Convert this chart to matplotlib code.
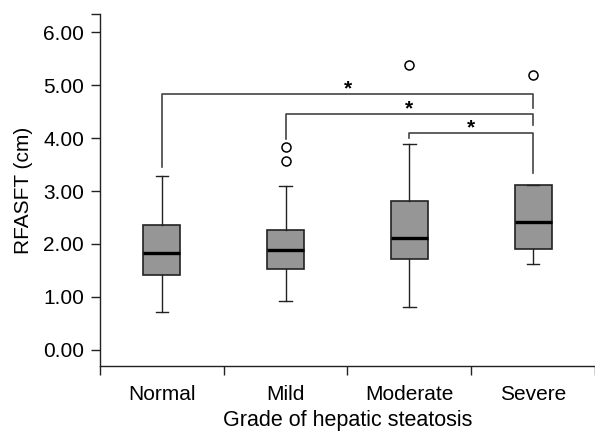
import matplotlib
matplotlib.use("Agg")
import matplotlib.pyplot as plt

plt.rcParams['font.family'] = ['Liberation Sans', 'DejaVu Sans']

# data
groups = ["Normal", "Mild", "Moderate", "Severe"]
whisk_lo = [0.71, 0.92, 0.81, 1.62]
q1 = [1.42, 1.53, 1.71, 1.90]
medians = [1.82, 1.89, 2.11, 2.42]
q3 = [2.35, 2.27, 2.81, 3.11]
whisk_hi = [3.29, 3.09, 3.89, 3.11]
outliers = [[], [3.83, 3.57], [5.39], [5.19]]

# significance brackets: (group a, group b), bar height, leg ends
pairs = [(0, 3), (1, 3), (2, 3)]
bar_y = [4.83, 4.455, 4.10]
leg_a = [3.45, 3.99, 4.00]
leg_b = [4.58, 4.25, 3.34]
yticks = [0, 1, 2, 3, 4, 5, 6]

fig = plt.figure(figsize=(5.95, 4.32), dpi=100)
ax = fig.add_axes([0.168, 0.1528, 0.832, 0.8148])

stats = []
for i in range(len(groups)):
    stats.append(dict(whislo=whisk_lo[i], q1=q1[i], med=medians[i],
                      q3=q3[i], whishi=whisk_hi[i], fliers=outliers[i]))

ax.bxp(stats, positions=range(len(groups)), widths=0.3, patch_artist=True,
       boxprops=dict(facecolor="#969696", edgecolor="#222222", linewidth=1.2),
       medianprops=dict(color="black", linewidth=2.4),
       whiskerprops=dict(color="#222222", linewidth=1.0),
       capprops=dict(color="#222222", linewidth=1.0),
       capwidths=0.1,
       flierprops=dict(marker="o", markerfacecolor="white", markeredgecolor="black",
                       markersize=6.5, markeredgewidth=1.1))

for k, (a, b) in enumerate(pairs):
    ax.plot([a, a, b, b], [leg_a[k], bar_y[k], bar_y[k], leg_b[k]],
            color="#444444", linewidth=1.2)
    ax.text((a + b) / 2, bar_y[k] - 0.01, "*", ha="center", va="baseline",
            fontsize=15, fontweight="bold")

ytop = 6.35
ax.set_ylim(-0.31, ytop)
ax.set_xlim(-0.5, 3.5)
ax.set_yticks(yticks + [ytop])
ax.set_yticklabels(["%.2f" % v for v in yticks] + [""], fontsize=15)
ax.set_xticks([-0.5, 0.5, 1.5, 2.5, 3.5])
ax.set_xticklabels([])
ax.set_xticks(range(len(groups)), minor=True)
ax.set_xticklabels(groups, minor=True, fontsize=15)
ax.tick_params(axis="x", which="minor", length=0, pad=14)
ax.tick_params(axis="y", which="major", pad=5)
ax.tick_params(axis="both", which="major", length=6.5, width=1.0, color="#222222")

for s in ["top", "right"]:
    ax.spines[s].set_visible(False)
for s in ["left", "bottom"]:
    ax.spines[s].set_linewidth(1.0)
    ax.spines[s].set_color("#222222")

ax.set_ylabel("RFASFT (cm)", fontsize=15, labelpad=7)
ax.set_xlabel("Grade of hepatic steatosis", fontsize=15.5, labelpad=4)

fig.savefig("out.png", dpi=100)
